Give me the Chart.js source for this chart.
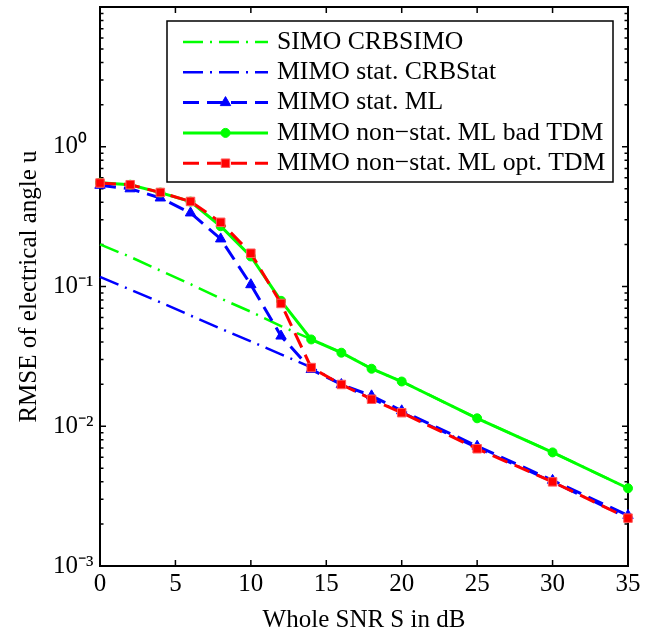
<!DOCTYPE html>
<html><head><meta charset="utf-8">
<style>html,body{margin:0;padding:0;background:#fff;}canvas{display:block}</style>
<script src="https://cdn.jsdelivr.net/npm/chart.js@4.4.0/dist/chart.umd.min.js"></script>
</head><body>
<canvas id="c" width="665" height="633"></canvas>
<script>
// ---- data ----
const snrDb = [0, 2, 4, 6, 8, 10, 12, 14, 16, 18, 20, 25, 30, 35];
const crbSimo = [0.200, 0.163, 0.130, 0.104, 0.082, 0.066, 0.052, 0.042, 0.0336, 0.0258, 0.0209, 0.0114, 0.0065, 0.0036];
const crbStat = [0.117, 0.095, 0.077, 0.062, 0.050, 0.0405, 0.0327, 0.0264, 0.0199, 0.0157, 0.0126, 0.0070, 0.0040, 0.0022];
const mlStat  = [0.53, 0.50, 0.43, 0.336, 0.219, 0.103, 0.0442, 0.0255, 0.0199, 0.0165, 0.0129, 0.0072, 0.0041, 0.0023];
const mlBadTdm = [0.553, 0.535, 0.47, 0.405, 0.27, 0.164, 0.079, 0.0418, 0.0336, 0.0258, 0.0209, 0.0114, 0.0065, 0.0036];
const mlOptTdm = [0.55, 0.535, 0.471, 0.406, 0.288, 0.173, 0.0756, 0.0263, 0.0199, 0.0156, 0.0125, 0.0069, 0.0040, 0.0022];
const seriesNames = ['SIMO CRBSIMO', 'MIMO stat. CRBStat', 'MIMO stat. ML', 'MIMO non\u2212stat. ML bad TDM', 'MIMO non\u2212stat. ML opt. TDM'];
const xTickValues = [0, 5, 10, 15, 20, 25, 30, 35];
const yTickValues = [0.001, 0.01, 0.1, 1, 10];
const yTickLabels = ['10\u207B\u00B3', '10\u207B\u00B2', '10\u207B\u00B9', '10\u2070', ''];
const xTitle = 'Whole SNR S in dB';
const yTitle = 'RMSE of electrical angle u';

const FONT = '"Liberation Serif", "Times New Roman", serif';
const GREEN = 'rgb(0,255,0)', BLUE = 'rgb(0,0,255)', RED = 'rgb(255,0,0)';
const pts = arr => snrDb.map((x, i) => ({x: x, y: arr[i]}));
const dashDot = [20, 7, 2, 7];
const dashed = [16, 8];

const datasets = [
  {label: seriesNames[0], data: pts(crbSimo), borderColor: GREEN, borderWidth: 2.5, borderDash: dashDot, pointRadius: 0, order: 5},
  {label: seriesNames[1], data: pts(crbStat), borderColor: BLUE, borderWidth: 2.5, borderDash: dashDot, pointRadius: 0, order: 4},
  {label: seriesNames[2], data: pts(mlStat), borderColor: BLUE, borderWidth: 3, borderDash: dashed, pointStyle: 'triangle', pointRadius: 6, pointBackgroundColor: BLUE, pointBorderColor: BLUE, order: 3},
  {label: seriesNames[3], data: pts(mlBadTdm), borderColor: GREEN, borderWidth: 3, borderDash: [], pointStyle: 'circle', pointRadius: 4.5, pointBackgroundColor: GREEN, pointBorderColor: GREEN, order: 2},
  {label: seriesNames[4], data: pts(mlOptTdm), borderColor: RED, borderWidth: 3, borderDash: dashed, pointStyle: 'rect', pointRadius: 6, pointBackgroundColor: RED, pointBorderColor: 'rgb(255,90,90)', order: 1}
];
datasets.forEach(d => { d.tension = 0; d.fill = false; d.clip = false; d.pointBorderWidth = 1; });

const framePlugin = {
  id: 'frame',
  beforeDatasetsDraw(chart) {
    const ctx = chart.ctx, a = chart.chartArea;
    const xs = chart.scales.x, ys = chart.scales.y;
    ctx.save();
    ctx.strokeStyle = '#000';
    ctx.lineWidth = 1.5;
    ctx.beginPath();
    xTickValues.forEach(v => {
      const px = xs.getPixelForValue(v);
      ctx.moveTo(px, a.bottom); ctx.lineTo(px, a.bottom - 6);
      ctx.moveTo(px, a.top); ctx.lineTo(px, a.top + 6);
    });
    for (let e = -3; e <= 0; e++) {
      for (let k = 1; k <= 9; k++) {
        const v = k * Math.pow(10, e);
        const py = ys.getPixelForValue(v);
        const len = k === 1 ? 6 : 3.5;
        ctx.moveTo(a.left, py); ctx.lineTo(a.left + len, py);
        ctx.moveTo(a.right, py); ctx.lineTo(a.right - len, py);
      }
    }
    ctx.stroke();
    ctx.lineWidth = 2;
    ctx.strokeRect(a.left, a.top, a.right - a.left, a.bottom - a.top);
    // axis titles
    ctx.fillStyle = '#000';
    ctx.font = '25px ' + FONT;
    ctx.textAlign = 'center';
    ctx.textBaseline = 'alphabetic';
    ctx.fillText(xTitle, (a.left + a.right) / 2, 627);
    ctx.translate(36, (a.top + a.bottom) / 2);
    ctx.rotate(-Math.PI / 2);
    ctx.fillText(yTitle, 0, 0);
    ctx.restore();
  },
  afterDraw(chart) {
    const ctx = chart.ctx;
    const L = 167, T = 21, R = 613, B = 182;
    ctx.save();
    ctx.fillStyle = '#fff';
    ctx.fillRect(L, T, R - L, B - T);
    ctx.strokeStyle = '#000';
    ctx.lineWidth = 1.5;
    ctx.strokeRect(L, T, R - L, B - T);
    ctx.font = '25.7px ' + FONT;
    ctx.textAlign = 'left';
    ctx.textBaseline = 'middle';
    chart.data.datasets.forEach((d, i) => {
      const y = 42 + i * 30.3;
      ctx.save();
      ctx.strokeStyle = d.borderColor;
      ctx.lineWidth = d.borderWidth;
      ctx.setLineDash(d.borderDash || []);
      ctx.beginPath();
      ctx.moveTo(183, y); ctx.lineTo(268, y);
      ctx.stroke();
      ctx.restore();
      if (d.pointRadius > 0) {
        ctx.save();
        ctx.fillStyle = d.pointBackgroundColor;
        ctx.strokeStyle = d.pointBorderColor;
        ctx.lineWidth = 1;
        Chart.helpers.drawPoint(ctx, {pointStyle: d.pointStyle, radius: d.pointRadius, borderWidth: 1, rotation: 0}, 225.5, y);
        ctx.restore();
      }
      ctx.fillStyle = '#000';
      ctx.fillText(d.label, 277, y);
    });
    ctx.restore();
  }
};

new Chart(document.getElementById('c'), {
  type: 'line',
  data: {datasets: datasets},
  options: {
    responsive: false,
    animation: false,
    devicePixelRatio: 1,
    layout: {padding: {left: 53, right: 37, top: 7, bottom: 0}},
    plugins: {legend: {display: false}, tooltip: {enabled: false}, title: {display: false}},
    scales: {
      x: {
        type: 'linear', min: 0, max: 35,
        afterFit(s) { s.height = 67; s.paddingLeft = 0; s.paddingRight = 0; },
        afterBuildTicks(s) { s.ticks = xTickValues.map(v => ({value: v})); },
        ticks: {font: {family: FONT, size: 25}, color: '#000', padding: 3, maxRotation: 0, autoSkip: false},
        grid: {display: false, drawTicks: false},
        border: {display: false}
      },
      y: {
        type: 'logarithmic', min: 0.001, max: 10,
        afterFit(s) { s.width = 47; s.paddingTop = 0; s.paddingBottom = 0; },
        afterBuildTicks(s) { s.ticks = yTickValues.map(v => ({value: v})); },
        ticks: {
          font: {family: FONT, size: 25}, color: '#000', padding: 10, autoSkip: false, crossAlign: 'far',
          callback: (v, i) => yTickLabels[i]
        },
        grid: {display: false, drawTicks: false},
        border: {display: false}
      }
    }
  },
  plugins: [framePlugin]
});
</script>
</body></html>
